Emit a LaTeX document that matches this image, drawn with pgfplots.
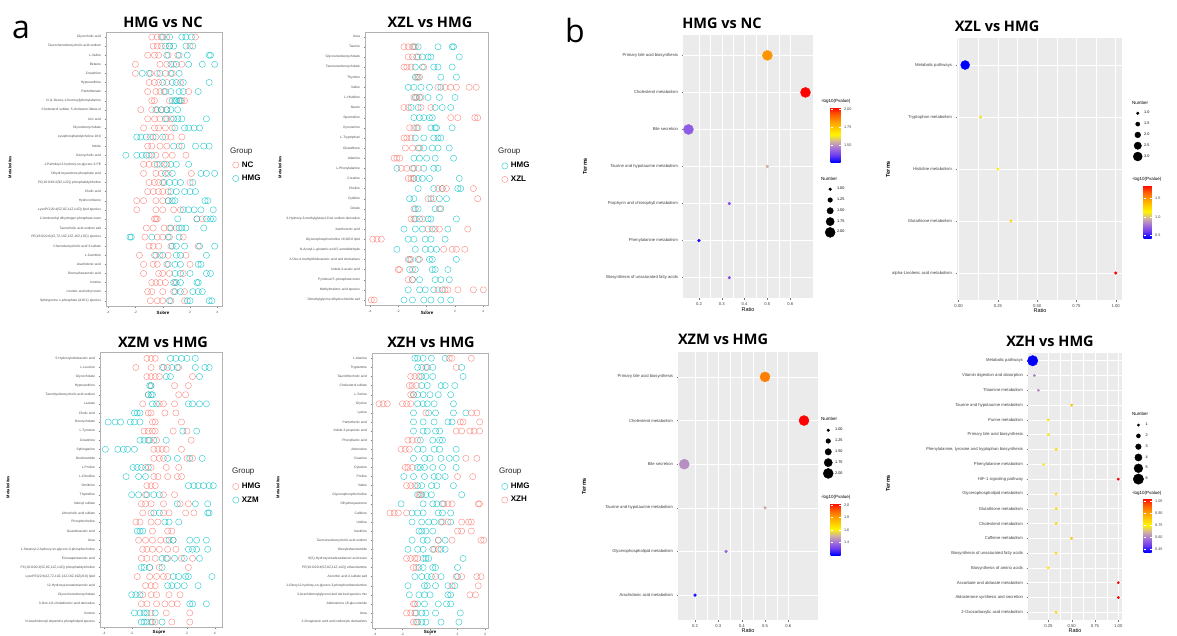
\documentclass[border=0pt]{standalone}
\usepackage{fontspec}
\setmainfont{Liberation Sans}
\newfontfamily\titlefont{Open Sans}
\usepackage{pgfplots}
\pgfplotsset{compat=1.18}
\definecolor{cRed}{HTML}{F8766D}
\definecolor{cTeal}{HTML}{00BFC4}
\definecolor{panelbg}{HTML}{EBEBEB}
\pgfplotsset{
  /pgf/number format/assume math mode=true,
  colormap={pvgrad}{rgb255=(0,0,255) rgb255=(110,60,240) rgb255=(165,115,215) rgb255=(210,180,160) rgb255=(255,245,0) rgb255=(255,200,0) rgb255=(255,150,0) rgb255=(255,85,0) rgb255=(255,0,0)},
  ptR/.style={only marks, mark=o, mark size=3.1pt, color=cRed, mark options={line width=0.45pt}, opacity=0.8},
  ptT/.style={only marks, mark=o, mark size=3.1pt, color=cTeal, mark options={line width=0.45pt}, opacity=0.8},
  scoreaxis/.style={
    scale only axis, anchor=north west, y dir=reverse, clip=false,
    xtick={-4,-2,0,2,4}, xticklabels={-4,-2,0,2,4},
    tick label style={font=\fontsize{3.3}{3.6}\selectfont, text=black!70},
    tick align=outside, major tick length=1.5pt,
    tick style={black!50, line width=0.3pt},
    xtick pos=bottom, ytick pos=left,
    axis line style={black!30, line width=0.4pt},
    legend cell align=left,
    legend image code/.code={\draw[##1] plot coordinates {(4.5pt,0pt)};},
    legend style={anchor=north west, draw=none, fill=none, inner sep=0pt, row sep=0pt,
      font=\bfseries\fontsize{8}{9}\selectfont,
      nodes={inner sep=0.5pt, minimum height=13.5pt},
      /tikz/every odd column/.append style={column sep=2.5pt}},
  },
  ratioaxis/.style={
    scale only axis, anchor=north west, y dir=reverse, clip=false,
    axis background/.style={fill=panelbg},
    axis line style={draw=none},
    xmajorgrids, ymajorgrids, xminorgrids,
    major grid style={white, line width=0.55pt},
    minor grid style={white, line width=0.25pt},
    minor x tick num=1, minor tick length=0pt,
    tick align=outside, major tick length=1.5pt,
    tick style={black!55, line width=0.3pt},
    xtick pos=bottom, ytick pos=left,
    tick label style={font=\fontsize{4.2}{5}\selectfont, text=black!75},
    colormap name=pvgrad,
    legend cell align=left,
    legend image code/.code={\draw[##1] plot coordinates {(5pt,0pt)};},
    legend style={anchor=north west, draw=none, fill=none, inner sep=0pt, row sep=0pt,
      font=\fontsize{3.8}{4}\selectfont,
      nodes={inner sep=0.4pt, minimum height=10.8pt},
      /tikz/every odd column/.append style={column sep=1.5pt}},
    colorbar,
    colorbar style={at={(parent axis.north east)}, anchor=north west,
      scale only axis, y dir=normal, axis background/.style={},
      xmajorgrids=false, ymajorgrids=false, xminorgrids=false, minor x tick num=0,
      xtick=\empty, yticklabel pos=right, axis line style={draw=none},
      tick align=inside, major tick length=2pt, tick style={white, line width=0.4pt},
      yticklabel style={font=\fontsize{3.8}{4}\selectfont, text=black!75}},
  },
  cbpos/.style n args={4}{colorbar style={xshift=#1, yshift=#2, width=#3, height=#4}},
  bubble/.style={scatter, only marks, mark=*, scatter src=explicit, forget plot,
    scatter/use mapped color={draw=mapped color, fill=mapped color},
    visualization depends on={#1 \as \rad},
    scatter/@pre marker code/.append style={/tikz/mark size=\rad}},
}
\begin{document}
\begin{tikzpicture}
% ================= panel a : HMG vs NC =================
\begin{axis}[scoreaxis, at={(106pt,-32pt)}, width=116pt, height=274pt,
  xmin=-4.15, xmax=4.34, ymin=0.45, ymax=30.58, ytick={1,...,30},
  yticklabels={{Glycocholic acid},{Taurochenodeoxycholic acid sodium},{L-Valine},{Betaine},{Creatinine},{Hypoxanthine},{Pantothenate},{N-(1-Deoxy-1-fructosyl)phenylalanine},{Cholesterol sulfate; 5-cholesten-3beta-ol},{Uric acid},{Glycodeoxycholate},{Lysophosphatidylcholine 18:0},{Indole},{Deoxycholic acid},{1-Palmitoyl-2-hydroxy-sn-glycero-3-PE},{Dihydroxyacetone phosphate acid},{PC(16:0/18:2(9Z,12Z)) phosphatidylcholine},{Cholic acid},{Hydrocortisone},{LysoPC(20:4(5Z,8Z,11Z,14Z)) lipid species},{2-Aminoethyl dihydrogen phosphate ester},{Taurocholic acid sodium salt},{PE(18:0/22:6(4Z,7Z,10Z,13Z,16Z,19Z)) species},{Chenodeoxycholic acid 3-sulfate},{L-Carnitine},{Arachidonic acid},{Docosahexaenoic acid},{Inosine},{Linoleic acid ethyl ester},{Sphingosine 1-phosphate (d18:1) species}},
  legend style={at={(1.09,0.54)}}]
\addplot[ptR] coordinates {
(-0.8,1)(-0.4,1)(-0.1,1)(0.3,1)(2.4,1)
(-0.7,2)(-0.4,2)(-0.1,2)(0.5,2)(2.0,2)
(-1.1,3)(-0.6,3)(-0.3,3)(0.4,3)(1.1,3)
(-2.0,4)(-0.2,4)(0.3,4)(0.8,4)(1.4,4)
(-2.0,5)(-0.9,5)(-0.4,5)(0.2,5)(0.7,5)
(-1.0,6)(-0.6,6)(-0.3,6)(0.3,6)(1.3,6)
(-1.1,7)(-0.5,7)(-0.2,7)(0.2,7)(1.9,7)
(-0.8,8)(-0.6,8)(0.5,8)(1.4,8)(1.6,8)
(-1.6,9)(-0.8,9)(-0.4,9)(-0.1,9)(0.3,9)
(-1.1,10)(-0.6,10)(-0.2,10)(0.3,10)(0.6,10)
(-1.4,11)(-0.6,11)(-0.3,11)(0.2,11)(0.7,11)
(-0.9,12)(-0.5,12)(0.2,12)(0.6,12)(1.4,12)
(-1.1,13)(-0.8,13)(-0.2,13)(0.3,13)(1.2,13)
(-1.0,14)(-0.5,14)(0.2,14)(0.7,14)(1.7,14)
(-1.4,15)(-1.0,15)(-0.6,15)(-0.2,15)(0.3,15)
(-1.4,16)(-0.5,16)(-0.1,16)(0.4,16)(2.1,16)
(-1.0,17)(-0.6,17)(-0.3,17)(0.0,17)(2.0,17)
(-1.1,18)(-0.7,18)(-0.3,18)(0.0,18)(0.4,18)
(-1.9,19)(-1.4,19)(-0.5,19)(0.0,19)(0.4,19)
(-1.9,20)(-0.5,20)(0.0,20)(0.8,20)(1.3,20)
(-0.6,21)(-0.5,21)(-0.4,21)(2.5,21)(2.9,21)
(-1.2,22)(-0.7,22)(0.1,22)(0.5,22)(1.0,22)
(-1.3,23)(-0.4,23)(0.0,23)(0.5,23)(1.5,23)
(-1.0,24)(-0.7,24)(-0.3,24)(0.6,24)(2.6,24)
(-1.7,25)(-0.6,25)(-0.2,25)(0.4,25)(1.7,25)
(-1.4,26)(-0.7,26)(-0.4,26)(0.3,26)(2.0,26)
(-1.4,27)(-0.3,27)(0.0,27)(0.5,27)(1.5,27)
(-0.8,28)(-0.5,28)(-0.2,28)(0.2,28)(0.9,28)
(-1.1,29)(-0.8,29)(0.0,29)(0.8,29)(1.6,29)
(-0.9,30)(-0.4,30)(0.0,30)(0.6,30)(1.6,30)
};
\addplot[ptT] coordinates {
(0.0,1)(0.5,1)(1.4,1)(1.7,1)(2.1,1)
(0.2,2)(0.5,2)(0.8,2)(1.7,2)(2.2,2)
(0.3,3)(1.2,3)(1.8,3)(3.4,3)(3.5,3)
(0.6,4)(1.0,4)(1.9,4)(2.9,4)(3.8,4)
(-1.5,5)(-1.0,5)(-0.2,5)(0.6,5)(1.2,5)
(0.0,6)(0.7,6)(1.0,6)(1.5,6)(3.4,6)
(0.1,7)(0.6,7)(1.2,7)(1.5,7)(2.6,7)
(0.7,8)(0.9,8)(1.0,8)(1.2,8)(1.3,8)
(-0.5,9)(-0.1,9)(0.3,9)(0.6,9)(1.1,9)
(0.2,10)(0.8,10)(1.1,10)(1.4,10)(3.2,10)
(0.9,11)(1.6,11)(1.9,11)(2.3,11)(2.7,11)
(-1.9,12)(-1.6,12)(-1.2,12)(-0.7,12)(0.0,12)
(0.8,13)(1.4,13)(2.4,13)(3.0,13)(3.4,13)
(-2.7,14)(-1.9,14)(-1.5,14)(-1.2,14)(-0.8,14)
(-0.4,15)(0.1,15)(0.6,15)(1.0,15)(1.9,15)
(0.2,16)(0.7,16)(2.8,16)(3.2,16)(3.8,16)
(0.1,17)(0.5,17)(0.9,17)(1.3,17)(2.2,17)
(0.6,18)(1.0,18)(1.6,18)(2.0,18)(2.4,18)
(0.4,19)(0.7,19)(0.9,19)(3.1,19)(3.3,19)
(1.5,20)(1.9,20)(2.3,20)(2.8,20)(3.7,20)
(1.1,21)(2.5,21)(3.2,21)(3.5,21)(3.7,21)
(0.6,22)(1.2,22)(1.4,22)(1.7,22)(3.0,22)
(-2.4,23)(-2.3,23)(-0.8,23)(0.4,23)(1.2,23)
(0.7,24)(1.0,24)(1.6,24)(2.7,24)(3.8,24)
(-0.5,25)(0.0,25)(1.0,25)(1.3,25)(3.2,25)
(0.4,26)(0.9,26)(1.3,26)(2.6,26)(2.8,26)
(0.9,27)(1.3,27)(2.0,27)(3.2,27)(3.5,27)
(0.8,28)(1.0,28)(1.3,28)(2.5,28)(2.6,28)
(0.9,29)(1.3,29)(2.2,29)(2.6,29)(2.9,29)
(0.5,30)(1.8,30)(2.0,30)(3.4,30)(3.6,30)
};
\legend{NC,HMG}
\end{axis}
% ================= panel a : XZL vs HMG =================
\begin{axis}[scoreaxis, at={(365pt,-32pt)}, width=123pt, height=273pt,
  xmin=-4.35, xmax=4.33, ymin=0.54, ymax=27.5, ytick={1,...,27},
  yticklabels={{Urea},{Taurine},{Glycoursodeoxycholate},{Tauroursodeoxycholate},{Thymine},{Valine},{L-Histidine},{Niacin},{Spermidine},{Kynurenine},{L-Tryptophan},{Glutathione},{Adenine},{L-Phenylalanine},{Creatine},{Choline},{Cytidine},{Citrate},{3-Hydroxy-3-methylglutaryl-CoA sodium derivative},{Xanthurenic acid},{Glycerophosphocholine 16:0/0:0 lipid},{N-Acetyl-L-glutamic acid 5-semialdehyde},{2-Oxo-4-methylthiobutanoic acid and derivatives},{Indole-3-acetic acid},{Pyridoxal 5'-phosphate ester},{Methylmalonic acid species},{Dimethylglycine dihydrochloride salt}},
  legend style={at={(1.11,0.535)}}]
\addplot[ptT] coordinates {
(-0.9,2)(-0.6,2)(0.8,2)(1.8,2)(1.9,2)
(-0.7,3)(-0.3,3)(0.1,3)(0.3,3)(2.3,3)
(-0.8,4)(-0.3,4)(0.5,4)(0.8,4)(1.8,4)
(-0.8,5)(-0.6,5)(1.0,5)(2.1,5)
(-1.3,6)(-0.9,6)(-0.4,6)(0.2,6)(1.0,6)
(-0.8,7)(-0.5,7)(0.1,7)(0.9,7)(2.0,7)
(-1.1,8)(-0.6,8)(0.6,8)(1.1,8)(1.7,8)
(-0.9,9)(-0.5,9)(-0.2,9)(0.2,9)(0.4,9)
(-0.7,10)(0.3,10)(0.6,10)(0.7,10)(1.8,10)
(-0.8,11)(-0.2,11)(0.5,11)(0.8,11)(1.0,11)
(-0.6,12)(-0.2,12)(0.4,12)(0.8,12)(1.6,12)
(-0.9,13)(-0.5,13)(0.0,13)(0.6,13)(1.9,13)
(-2.1,14)(-0.9,14)(-0.2,14)(0.5,14)(0.8,14)
(-0.9,15)(-0.6,15)(-0.3,15)(0.2,15)(2.3,15)
(-0.6,16)(0.5,16)(1.1,16)(2.2,16)(2.4,16)
(-1.2,17)(-0.9,17)(0.3,17)(0.9,17)(1.4,17)
(-0.8,18)(-0.6,18)(0.6,18)(1.0,18)
(-0.8,19)(-0.5,19)(0.1,19)(0.3,19)(2.1,19)
(-1.6,20)(-0.8,20)(-0.3,20)(0.4,20)(1.5,20)
(-1.3,21)(-0.9,21)(-0.1,21)(0.3,21)(1.3,21)
(-2.1,22)(-0.8,22)(-0.1,22)(0.3,22)(0.7,22)
(-1.2,23)(-0.6,23)(0.2,23)(0.4,23)(2.1,23)
(-1.2,24)(-0.8,24)(0.4,24)(0.6,24)(1.5,24)
(-1.0,25)(-0.5,25)(0.6,25)(1.0,25)(1.6,25)
(-1.3,26)(-0.5,26)(-0.1,26)(0.5,26)(1.1,26)
(-1.6,27)(-1.0,27)(-0.2,27)(0.3,27)(1.0,27)(1.7,27)
};
\addplot[ptR] coordinates {
(-1.6,2)(-1.3,2)(-1.0,2)(-0.8,2)
(-1.3,3)(-1.0,3)(-0.6,3)
(-1.6,4)(-1.4,4)(-1.1,4)(-0.2,4)
(-0.7,5)(-0.5,5)
(0.8,6)(1.3,6)(1.7,6)(2.1,6)(3.0,6)(3.5,6)
(-0.9,7)(-0.7,7)(-0.4,7)
(-1.6,8)(-1.3,8)(-0.4,8)(0.3,8)
(1.7,9)(2.2,9)(3.4,9)(3.6,9)
(-1.2,10)(-0.9,10)(-0.6,10)
(-1.6,11)(-1.4,11)(-1.1,11)
(-1.5,12)(-1.0,12)(-0.5,12)
(-2.3,13)(-2.1,13)(-1.9,13)
(-1.8,14)(-1.4,14)(-1.0,14)(-0.6,14)
(-1.3,15)(-1.1,15)(-0.9,15)
(0.8,16)(1.1,16)(1.4,16)(3.3,16)
(0.1,17)(0.5,17)(3.6,17)
(-0.9,18)(0.9,18)
(-1.1,19)(-0.9,19)(-0.3,19)
(0.1,20)(0.6,20)(0.9,20)(2.9,20)
(-3.8,21)(-3.5,21)(-3.2,21)
(1.2,22)(1.8,22)(2.1,22)(2.7,22)
(-1.3,23)(-1.1,23)(-0.5,23)
(-2.0,24)(-1.9,24)(-1.0,24)
(-1.3,25)(-1.0,25)
(0.8,26)(1.3,26)(1.5,26)(2.2,26)(3.3,26)(4.0,26)
(-3.9,27)(-3.7,27)
};
\legend{HMG,XZL}
\end{axis}
% ================= panel a : XZM vs HMG =================
\begin{axis}[scoreaxis, at={(100pt,-352pt)}, width=122pt, height=275pt,
  xmin=-4.29, xmax=4.53, ymin=0.3, ymax=30.55, ytick={1,...,30},
  yticklabels={{5-Hydroxyindoleacetic acid},{L-Leucine},{Glycocholate},{Hypoxanthine},{Taurohyodeoxycholic acid sodium},{Lactate},{Cholic acid},{Deoxycholate},{L-Tyrosine},{Creatinine},{Sphinganine},{Nicotinamide},{L-Proline},{L-Citrulline},{Ornithine},{Thymidine},{Indoxyl sulfate},{Lithocholic acid sulfate},{Phosphocholine},{Guanidoacetic acid},{Urea},{1-Stearoyl-2-hydroxy-sn-glycero-3-phosphocholine},{Eicosapentaenoic acid},{PC(18:0/20:4(5Z,8Z,11Z,14Z)) phosphatidylcholine},{LysoPE(22:6(4Z,7Z,10Z,13Z,16Z,19Z)/0:0) lipid},{12-Hydroxyeicosatetraenoic acid},{Glycochenodeoxycholate},{3-Oxo-4,6-choladienoic acid derivative},{Inosine},{N-Arachidonoyl dopamine phospholipid species}},
  legend style={at={(1.086,0.536)}}]
\addplot[ptR] coordinates {
(-0.9,1)(-0.6,1)(-0.3,1)
(-1.7,2)(-0.6,2)(0.2,2)(0.6,2)(1.4,2)
(-0.9,3)(-0.6,3)(-0.3,3)(0.0,3)(2.4,3)
(-0.6,4)(1.1,4)(2.1,4)
(-0.8,5)(1.4,5)(1.9,5)
(-1.2,6)(0.0,6)(0.3,6)(1.1,6)
(-0.8,7)(-0.6,7)(0.4,7)(1.2,7)
(-0.5,8)(-0.3,8)(1.6,8)
(-1.1,9)(-0.8,9)(-0.5,9)(-0.3,9)(1.0,9)(2.0,9)
(-0.7,10)(-0.2,10)(2.3,10)
(-0.4,11)(-0.1,11)(0.2,11)(0.5,11)(1.6,11)
(-0.4,12)(0.0,12)(0.3,12)(2.0,12)(2.4,12)
(-1.0,13)(-0.6,13)(0.5,13)(1.4,13)
(-0.4,14)(-0.1,14)(0.6,14)(1.3,14)(1.6,14)
(-0.9,15)(-0.6,15)(-0.3,15)
(-1.0,16)(0.3,16)(1.1,16)
(-1.3,17)(-1.0,17)(-0.6,17)(0.3,17)(1.5,17)(2.1,17)
(-1.2,18)(-0.6,18)(0.3,18)(0.7,18)(1.9,18)(2.5,18)
(-1.7,19)(-1.4,19)(-0.6,19)(-0.1,19)
(-0.5,20)(0.6,20)(0.9,20)
(-1.5,21)(-1.0,21)(-0.5,21)(0.1,21)(0.5,21)(1.0,21)
(-1.2,22)(-0.9,22)(-0.5,22)(0.0,22)(0.6,22)(1.2,22)
(-1.3,23)(-0.9,23)(-0.3,23)(0.6,23)(1.6,23)(2.4,23)
(-0.7,24)(0.0,24)(2.1,24)
(-1.6,25)(-0.7,25)(-0.2,25)(0.3,25)(0.6,25)
(-1.0,26)(-0.6,26)(-0.3,26)
(-1.2,27)(-0.6,27)(-0.2,27)(0.7,27)(1.5,27)
(-1.3,28)(-0.9,28)(-0.2,28)(0.4,28)(0.9,28)(1.3,28)
(-0.6,29)(0.5,29)(2.2,29)
(-0.6,30)(-0.3,30)(0.9,30)(2.2,30)
};
\addplot[ptT] coordinates {
(0.8,1)(1.2,1)(1.6,1)(2.0,1)(2.6,1)
(0.3,2)(0.9,2)(1.3,2)(2.6,2)(3.3,2)(3.6,2)
(0.5,3)(0.8,3)(2.9,3)
(-0.7,4)(-0.6,4)
(-0.8,5)(-0.6,5)(-0.5,5)
(-0.5,6)(-0.2,6)(2.1,6)(2.4,6)(2.9,6)(3.4,6)
(-1.8,7)(-1.6,7)(-1.4,7)
(-3.7,8)(-3.2,8)(-2.8,8)(-2.1,8)(-1.8,8)(-1.4,8)
(1.7,9)(2.7,9)
(-1.4,10)(-1.1,10)(-0.8,10)(-0.4,10)(0.5,10)
(-3.9,11)(-3.0,11)(-2.6,11)(-2.3,11)(-1.8,11)
(0.6,12)(1.3,12)(2.2,12)(3.1,12)
(-1.9,13)(-1.6,13)(-1.3,13)(-0.8,13)
(-2.4,14)(-1.5,14)(-1.0,14)
(2.1,15)(2.5,15)(2.8,15)(3.2,15)(3.6,15)(3.9,15)
(-2.0,16)(-1.5,16)(-0.9,16)(-0.4,16)(0.0,16)
(1.3,17)(2.6,17)(3.5,17)
(-0.4,18)(0.0,18)(3.5,18)(3.6,18)
(0.4,19)(0.7,19)(1.4,19)
(-1.6,20)(-1.4,20)(-1.2,20)
(0.7,21)(1.0,21)(2.2,21)(2.7,21)(3.4,21)
(2.1,22)(2.4,22)(2.7,22)(3.5,22)
(0.2,23)(0.5,23)(1.1,23)(1.8,23)(2.9,23)
(-1.3,24)(-1.1,24)(-0.7,24)(0.2,24)
(1.0,25)(1.4,25)(1.9,25)(2.1,25)(3.8,25)
(0.6,26)(0.9,26)(1.3,26)(1.8,26)(2.8,26)
(-2.0,27)(-1.7,27)(-1.4,27)
(2.2,28)(2.4,28)(3.4,28)
(-1.8,29)(-1.4,29)(-1.1,29)(-0.9,29)(-0.3,29)
(-1.3,30)(-1.1,30)(-0.9,30)(-0.5,30)(0.2,30)
};
\legend{HMG,XZM}
\end{axis}
% ================= panel a : XZH vs HMG =================
\begin{axis}[scoreaxis, at={(372pt,-353pt)}, width=116pt, height=275pt,
  xmin=-4.21, xmax=4.21, ymin=0.42, ymax=30.65, ytick={1,...,30},
  yticklabels={{L-Alanine},{Tryptamine},{Taurolithocholic acid},{Cholesterol sulfate},{L-Serine},{Glycine},{Lysine},{Pantothenic acid},{Indole-3-propionic acid},{Phenyllactic acid},{Adenosine},{Guanine},{Cytosine},{Proline},{Valine},{Glycerophosphocholine},{Dihydroxyacetone},{Caffeine},{Uridine},{Xanthine},{Tauroursodeoxycholic acid sodium},{Oleoylethanolamide},{9(S)-Hydroxyoctadecadienoic acid ester},{PE(16:0/20:4(5Z,8Z,11Z,14Z)) ethanolamine},{Ascorbic acid 2-sulfate salt},{1-Oleoyl-2-hydroxy-sn-glycero-3-phosphoethanolamine},{2-Arachidonoylglycerol and derived species mix},{Aldosterone 18-glucuronide},{Urea},{2-Oxoglutaric acid and carboxylic derivatives}},
  legend style={at={(1.116,0.54)}}]
\addplot[ptT] coordinates {
(-1.1,1)(-0.9,1)(-0.5,1)(0.1,1)(1.1,1)
(-0.9,2)(-0.6,2)(-0.2,2)(0.2,2)(2.3,2)
(-0.6,3)(-0.3,3)(0.2,3)(2.4,3)
(-0.6,4)(-0.2,4)(0.8,4)(1.1,4)(1.8,4)
(-1.2,5)(-0.9,5)(-0.5,5)(0.0,5)(0.6,5)(1.5,5)
(-0.9,6)(-0.5,6)(-0.2,6)(0.3,6)(1.7,6)
(-1.2,7)(-0.1,7)(0.4,7)(1.7,7)(2.6,7)
(-1.2,8)(-0.5,8)(0.3,8)(1.3,8)(1.6,8)
(-1.2,9)(-0.5,9)(-0.2,9)(0.4,9)(0.7,9)
(-0.7,10)(0.2,10)(0.7,10)(0.9,10)
(-0.9,11)(-0.5,11)(0.3,11)(0.7,11)(1.9,11)
(-1.2,12)(-0.4,12)(0.0,12)(0.8,12)(1.4,12)(1.9,12)
(-0.9,13)(-0.7,13)(-0.4,13)(0.2,13)(0.9,13)(1.9,13)
(-1.9,14)(-1.2,14)(-0.4,14)(0.3,14)(0.6,14)(1.1,14)
(-0.9,15)(-0.6,15)(0.1,15)(0.5,15)(1.7,15)
(-0.9,16)(-0.6,16)(-0.3,16)(0.1,16)(2.3,16)
(-2.1,17)(-0.5,17)(0.2,17)(0.5,17)(0.9,17)
(-1.3,18)(-0.9,18)(-0.5,18)(0.6,18)(0.9,18)(1.5,18)
(-1.3,19)(-0.6,19)(-0.1,19)(0.3,19)(0.8,19)(1.5,19)
(-0.8,20)(-0.6,20)(-0.3,20)(0.2,20)
(-1.3,21)(-0.5,21)(-0.2,21)(0.6,21)(1.1,21)
(-1.6,22)(-0.9,22)(-0.5,22)(0.2,22)(0.8,22)(1.1,22)
(-0.5,23)(-0.3,23)(-0.1,23)(2.4,23)
(-0.8,24)(-0.5,24)(0.2,24)(0.4,24)(2.0,24)
(-1.1,25)(-0.6,25)(-0.2,25)(0.1,25)(0.8,25)(2.0,25)
(-1.6,26)(-0.4,26)(-0.2,26)(0.4,26)(1.3,26)(1.8,26)
(-1.5,27)(-0.8,27)(-0.4,27)(0.0,27)(1.3,27)(1.5,27)
(-0.9,28)(-0.4,28)(0.6,28)(1.2,28)(1.5,28)
(-1.0,29)(-0.6,29)(-0.3,29)(0.4,29)(2.2,29)
(-0.9,30)(-0.6,30)(-0.3,30)(0.8,30)(2.1,30)
};
\addplot[ptR] coordinates {
(1.4,1)(1.6,1)(3.0,1)
(-0.3,2)(1.9,2)
(-1.4,3)(-1.1,3)(-0.8,3)
(-1.5,4)(-1.3,4)(-1.0,4)
(-1.4,5)(-1.2,5)
(-3.7,6)(-3.4,6)(-3.1,6)(-2.0,6)(-1.7,6)(-1.4,6)
(-0.3,7)(3.0,7)(3.4,7)
(2.2,8)(2.4,8)(3.6,8)
(1.9,9)(2.3,9)(2.9,9)(3.2,9)(3.6,9)
(-1.6,10)(-1.3,10)(-0.9,10)
(-2.1,11)(-1.8,11)(-1.5,11)
(2.6,12)(3.4,12)
(-1.8,13)(-1.6,13)(-1.3,13)
(2.0,14)(3.1,14)
(-1.7,15)(-1.4,15)(-1.1,15)
(-0.8,16)(-0.7,16)
(1.0,17)(1.3,17)(1.6,17)(3.5,17)(3.6,17)
(-2.9,18)(-2.6,18)(-2.3,18)(-1.7,18)
(0.9,19)(1.3,19)(2.3,19)(2.8,19)(3.0,19)
(2.0,20)(2.3,20)(3.0,20)
(0.6,21)(1.6,21)(3.7,21)(3.9,21)
(0.3,22)(0.6,22)
(-1.7,23)(-1.4,23)(-1.1,23)(-0.9,23)
(-1.2,24)(-1.0,24)
(0.4,25)(1.9,25)(2.3,25)(3.4,25)(3.7,25)
(1.6,26)(3.5,26)
(2.9,27)(3.3,27)
(-1.2,28)(-1.1,28)
(-1.7,29)(-1.4,29)(-1.1,29)
(-1.2,30)(-1.0,30)
};
\legend{HMG,XZH}
\end{axis}
% ================= panel b : HMG vs NC =================
\begin{axis}[ratioaxis, at={(683pt,-35pt)}, width=130pt, height=263pt,
  xmin=0.13, xmax=0.70, ymin=0.45, ymax=7.55,
  xtick={0.2,0.3,0.4,0.5,0.6}, xticklabels={0.2,0.3,0.4,0.5,0.6},
  ytick={1,...,7},
  yticklabels={{Primary bile acid biosynthesis},{Cholesterol metabolism},{Bile secretion},{Taurine and hypotaurine metabolism},{Porphyrin and chlorophyll metabolism},{Phenylalanine metabolism},{Biosynthesis of unsaturated fatty acids}},
  point meta min=1.27, point meta max=2.03,
  cbpos={9pt}{-72pt}{10pt}{55pt},
  colorbar style={ytick={1.5,1.75,2.0}, yticklabels={1.50,1.75,2.00}},
  legend style={at={(1.092,0.435)}}]
\addplot[bubble={1.4+3.6*(\thisrow{n}-1)}] table[x=ratio, y=id, meta=p] {
id ratio n p
1 0.500 2 1.84
2 0.667 2 2.03
3 0.154 2 1.42
4 0.500 1 1.55
5 0.333 1 1.40
6 0.200 1 1.29
7 0.333 1 1.40
};
\addlegendimage{only marks, mark=*, black, mark size=1.4pt}\addlegendentry{1.00}
\addlegendimage{only marks, mark=*, black, mark size=2.3pt}\addlegendentry{1.25}
\addlegendimage{only marks, mark=*, black, mark size=3.2pt}\addlegendentry{1.50}
\addlegendimage{only marks, mark=*, black, mark size=4.1pt}\addlegendentry{1.75}
\addlegendimage{only marks, mark=*, black, mark size=5.0pt}\addlegendentry{2.00}
\end{axis}
% ================= panel b : XZL vs HMG =================
\begin{axis}[ratioaxis, at={(957pt,-38pt)}, width=165pt, height=262pt,
  xmin=-0.01, xmax=1.04, ymin=0.48, ymax=5.52,
  xtick={0,0.25,0.5,0.75,1}, xticklabels={0.00,0.25,0.50,0.75,1.00},
  ytick={1,...,5},
  yticklabels={{Metabolic pathways},{Tryptophan metabolism},{Histidine metabolism},{Glutathione metabolism},{alpha-Linolenic acid metabolism}},
  point meta min=0.43, point meta max=1.86,
  cbpos={13pt}{-147pt}{8pt}{53pt},
  colorbar style={ytick={0.5,1.0,1.5}, yticklabels={0.5,1.0,1.5}},
  legend style={at={(1.067,0.734)}}]
\addplot[bubble={1.3+1.6*(\thisrow{n}-1)}] table[x=ratio, y=id, meta=p] {
id ratio n p
1 0.042 3 0.43
2 0.140 1 1.10
3 0.250 1 1.17
4 0.333 1 1.25
5 1.000 1 1.86
};
\addlegendimage{only marks, mark=*, black, mark size=1.3pt}\addlegendentry{1.0}
\addlegendimage{only marks, mark=*, black, mark size=2.1pt}\addlegendentry{1.5}
\addlegendimage{only marks, mark=*, black, mark size=2.9pt}\addlegendentry{2.0}
\addlegendimage{only marks, mark=*, black, mark size=3.7pt}\addlegendentry{2.5}
\addlegendimage{only marks, mark=*, black, mark size=4.5pt}\addlegendentry{3.0}
\end{axis}
% ================= panel b : XZM vs HMG =================
\begin{axis}[ratioaxis, at={(678pt,-352pt)}, width=140pt, height=268pt,
  xmin=0.127, xmax=0.727, ymin=0.43, ymax=6.57,
  xtick={0.2,0.3,0.4,0.5,0.6}, xticklabels={0.2,0.3,0.4,0.5,0.6},
  ytick={1,...,6},
  yticklabels={{Primary bile acid biosynthesis},{Cholesterol metabolism},{Bile secretion},{Taurine and hypotaurine metabolism},{Glycerophospholipid metabolism},{Arachidonic acid metabolism}},
  point meta min=1.2, point meta max=2.03,
  cbpos={4pt}{-151pt}{10pt}{52pt},
  colorbar style={ytick={1.4,1.6,1.8,2.0}, yticklabels={1.4,1.6,1.8,2.0}},
  legend style={at={(1.036,0.729)}}]
\addplot[bubble={1.4+3.6*(\thisrow{n}-1)}] table[x=ratio, y=id, meta=p] {
id ratio n p
1 0.500 2 1.86
2 0.667 2 2.03
3 0.154 2 1.45
4 0.500 1 1.50
5 0.333 1 1.38
6 0.200 1 1.22
};
\addlegendimage{only marks, mark=*, black, mark size=1.4pt}\addlegendentry{1.00}
\addlegendimage{only marks, mark=*, black, mark size=2.3pt}\addlegendentry{1.25}
\addlegendimage{only marks, mark=*, black, mark size=3.2pt}\addlegendentry{1.50}
\addlegendimage{only marks, mark=*, black, mark size=4.1pt}\addlegendentry{1.75}
\addlegendimage{only marks, mark=*, black, mark size=5.0pt}\addlegendentry{2.00}
\end{axis}
% ================= panel b : XZH vs HMG =================
\begin{axis}[ratioaxis, at={(1028pt,-353pt)}, width=94pt, height=267pt,
  xmin=0.032, xmax=1.04, ymin=0.48, ymax=18.52,
  xtick={0.25,0.5,0.75,1}, xticklabels={0.25,0.50,0.75,1.00},
  ytick={1,...,18},
  yticklabels={{Metabolic pathways},{Vitamin digestion and absorption},{Thiamine metabolism},{Taurine and hypotaurine metabolism},{Purine metabolism},{Primary bile acid biosynthesis},{Phenylalanine, tyrosine and tryptophan biosynthesis},{Phenylalanine metabolism},{HIF-1 signaling pathway},{Glycerophospholipid metabolism},{Glutathione metabolism},{Cholesterol metabolism},{Caffeine metabolism},{Biosynthesis of unsaturated fatty acids},{Biosynthesis of amino acids},{Ascorbate and aldarate metabolism},{Aldosterone synthesis and secretion},{2-Oxocarboxylic acid metabolism}},
  point meta min=0.416, point meta max=1.09,
  cbpos={13pt}{-145pt}{8pt}{54pt},
  colorbar style={ytick={0.45,0.60,0.75,0.90,1.05}, yticklabels={0.45,0.60,0.75,0.90,1.05}},
  legend style={at={(1.117,0.751)}}]
\addplot[bubble={1.2+0.8*(\thisrow{n}-1)}] table[x=ratio, y=id, meta=p] {
id ratio n p
1 0.082 6 0.416
2 0.100 1 0.60
3 0.143 1 0.62
4 0.500 1 0.84
5 0.250 1 0.78
6 0.250 1 0.78
7 0.333 1 0.80
8 0.200 1 0.74
9 1.000 1 1.09
10 0.333 1 0.80
11 0.333 1 0.80
12 0.333 1 0.80
13 0.500 1 0.84
14 0.333 1 0.80
15 0.250 1 0.78
16 1.000 1 1.09
17 1.000 1 1.09
18 0.333 1 0.80
};
\addlegendimage{only marks, mark=*, black, mark size=1.2pt}\addlegendentry{1}
\addlegendimage{only marks, mark=*, black, mark size=2.0pt}\addlegendentry{2}
\addlegendimage{only marks, mark=*, black, mark size=2.8pt}\addlegendentry{3}
\addlegendimage{only marks, mark=*, black, mark size=3.6pt}\addlegendentry{4}
\addlegendimage{only marks, mark=*, black, mark size=4.4pt}\addlegendentry{5}
\addlegendimage{only marks, mark=*, black, mark size=5.2pt}\addlegendentry{6}
\end{axis}
% ================= text =================
\tikzset{ttl/.style={font=\titlefont\bfseries\fontsize{14.5}{15}\selectfont, inner sep=0pt}}
\node[ttl] at (163pt,-22pt) {HMG vs NC};
\node[ttl] at (430pt,-22pt) {XZL vs HMG};
\node[ttl] at (163pt,-342pt) {XZM vs HMG};
\node[ttl] at (431pt,-342pt) {XZH vs HMG};
\node[ttl] at (722pt,-23pt) {HMG vs NC};
\node[ttl] at (997pt,-26pt) {XZL vs HMG};
\node[ttl] at (723pt,-339pt) {XZM vs HMG};
\node[ttl] at (1050pt,-341pt) {XZH vs HMG};
\node[font=\titlefont\fontsize{32}{32}\selectfont, inner sep=0pt] at (21pt,-30pt) {a};
\node[font=\titlefont\fontsize{32}{32}\selectfont, inner sep=0pt] at (575pt,-30pt) {b};
\tikzset{grp/.style={font=\fontsize{8}{9}\selectfont, text=black!85, anchor=west, inner sep=0pt}}
\node[grp] at (230pt,-152pt) {Group};
\node[grp] at (498pt,-152pt) {Group};
\node[grp] at (232pt,-472pt) {Group};
\node[grp] at (499pt,-472pt) {Group};
\tikzset{ylab/.style={font=\bfseries\fontsize{4}{5}\selectfont, rotate=90, inner sep=0pt}}
\node[ylab] at (10pt,-167pt) {Metabolites};
\node[ylab] at (280pt,-167pt) {Metabolites};
\node[ylab] at (8pt,-487pt) {Metabolites};
\node[ylab] at (278pt,-487pt) {Metabolites};
\tikzset{xlab/.style={font=\bfseries\fontsize{4.5}{5}\selectfont, inner sep=0pt}}
\node[xlab] at (163pt,-313pt) {Score};
\node[xlab] at (427pt,-313pt) {Score};
\node[xlab] at (159pt,-632pt) {Score};
\node[xlab] at (430pt,-632pt) {Score};
\tikzset{tlab/.style={font=\bfseries\fontsize{5.5}{6}\selectfont, rotate=90, inner sep=0pt}}
\node[tlab] at (585pt,-166pt) {Terms};
\node[tlab] at (888pt,-169pt) {Terms};
\node[tlab] at (584pt,-486pt) {Terms};
\node[tlab] at (888pt,-483pt) {Terms};
\tikzset{rlab/.style={font=\fontsize{5.5}{6}\selectfont, inner sep=0pt}}
\node[rlab] at (748pt,-310pt) {Ratio};
\node[rlab] at (1040pt,-311pt) {Ratio};
\node[rlab] at (748pt,-631pt) {Ratio};
\node[rlab] at (1075pt,-631pt) {Ratio};
\tikzset{lgt/.style={font=\fontsize{4.5}{5}\selectfont, anchor=west, inner sep=0pt}}
\node[lgt] at (821pt,-101pt) {-log10(Pvalue)};
\node[lgt] at (821pt,-179pt) {Number};
\node[lgt] at (1132pt,-103pt) {Number};
\node[lgt] at (1132pt,-179pt) {-log10(Pvalue)};
\node[lgt] at (821pt,-419pt) {Number};
\node[lgt] at (821pt,-497pt) {-log10(Pvalue)};
\node[lgt] at (1132pt,-414pt) {Number};
\node[lgt] at (1132pt,-493pt) {-log10(Pvalue)};
\pgfresetboundingbox
\useasboundingbox (0pt,0pt) rectangle (1177pt,-635pt);
\end{tikzpicture}
\end{document}
